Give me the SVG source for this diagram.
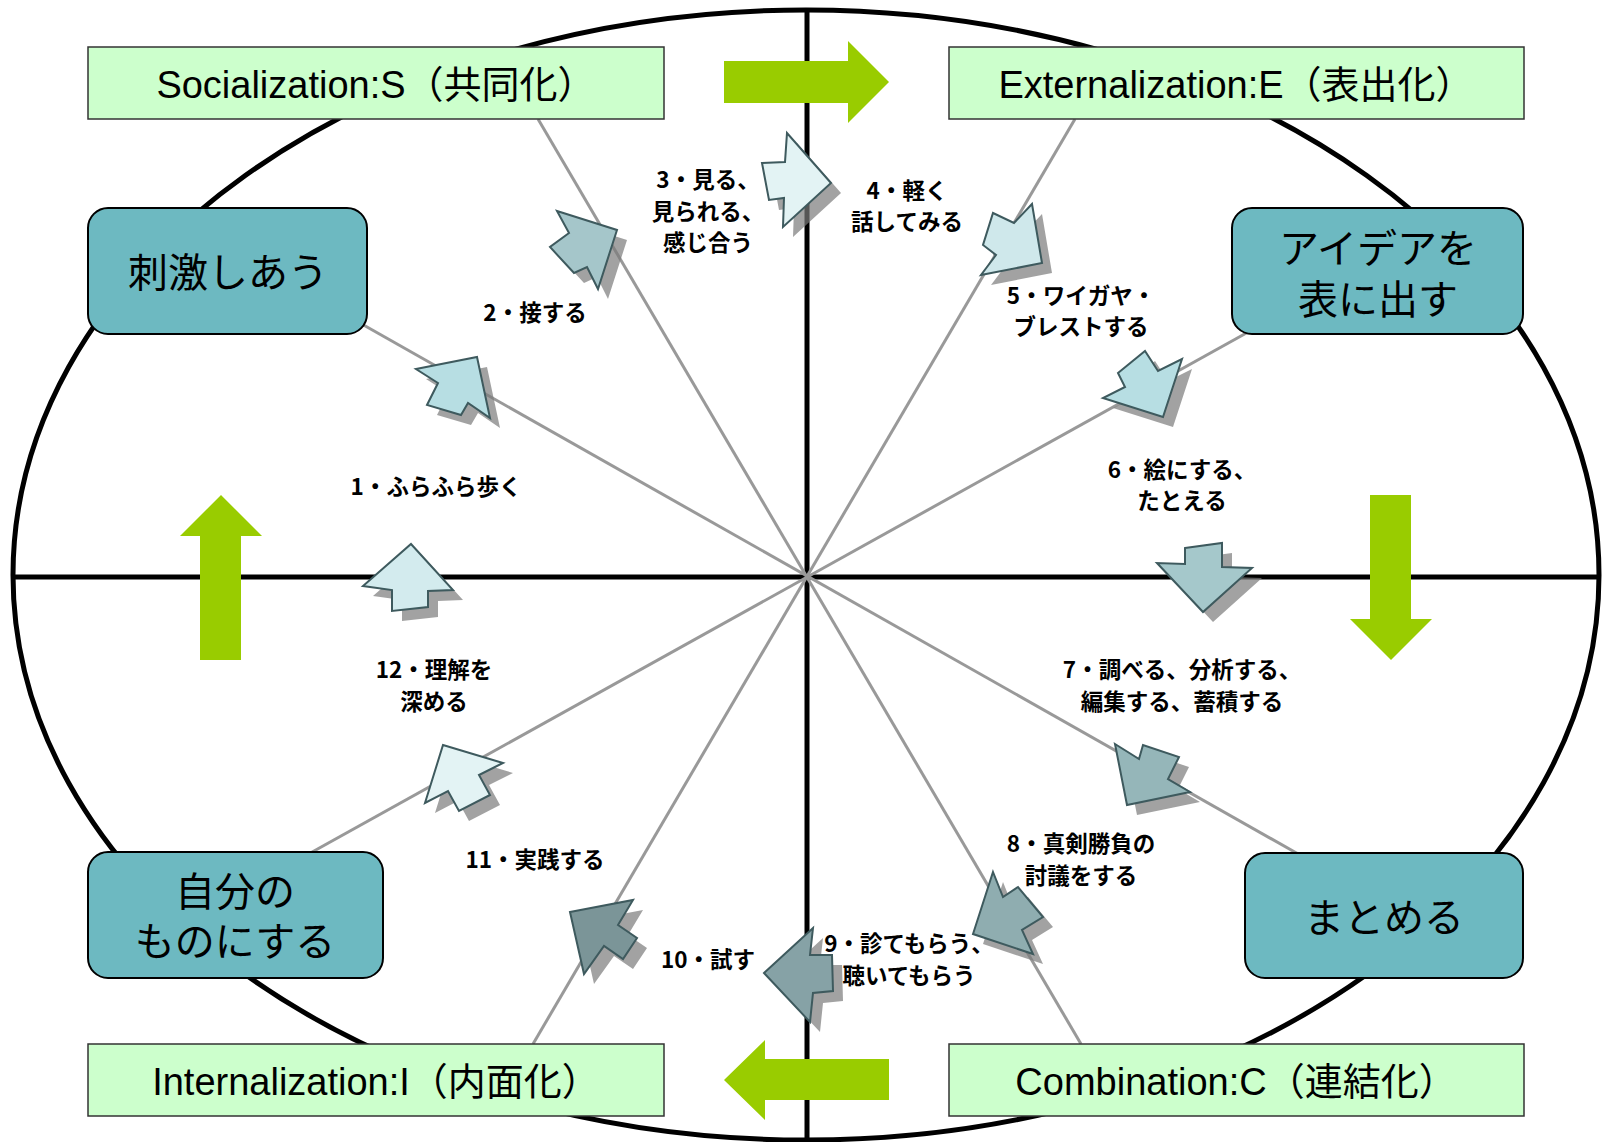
<svg xmlns="http://www.w3.org/2000/svg" width="1602" height="1142" viewBox="0 0 1602 1142">
<style>
.frame{fill:none;stroke:#000;stroke-width:5}
.axis{stroke:#000;stroke-width:5}
.spoke{stroke:#999;stroke-width:3}
.green{fill:#99CC00}
.mode rect{fill:#CCFFCC;stroke:#333;stroke-width:1.5}
.mode text{font-family:"Liberation Sans","Noto Sans CJK JP",sans-serif;font-size:38px;text-anchor:middle;fill:#000}
.act rect{fill:#6DB9C1;stroke:#000;stroke-width:2}
.act text{font-family:"Noto Sans CJK JP",sans-serif;font-size:40px;text-anchor:middle;fill:#000}
.sh{fill:#7a7a7a;opacity:0.7}
.ar{stroke:#3E5A5E;stroke-width:2;stroke-linejoin:miter}
.lbl{font-family:"Noto Sans CJK JP",sans-serif;font-size:22.5px;font-weight:700;text-anchor:middle;fill:#000}
</style>
<rect width="1602" height="1142" fill="#fff"/>
<ellipse class="frame" cx="806" cy="575" rx="793" ry="565"/>
<g id="connectors">
<line class="axis" x1="12" y1="577" x2="1599" y2="577"/>
<line class="axis" x1="807" y1="10" x2="807" y2="1140"/>
<line class="spoke" x1="538" y1="119" x2="1081" y2="1044"/>
<line class="spoke" x1="360" y1="323" x2="1300" y2="855"/>
<line class="spoke" x1="1075" y1="119" x2="533" y2="1044"/>
<line class="spoke" x1="305" y1="856" x2="1250" y2="331"/>
<polygon class="green" points="724,61 848,61 848,41 889,82 848,123 848,103 724,103"/>
<polygon class="green" points="1370,495 1411,495 1411,619 1432,619 1391,660 1350,619 1370,619"/>
<polygon class="green" points="200,660 200,536 180,536 221,495 262,536 241,536 241,660"/>
<polygon class="green" points="889,1059 765,1059 765,1040 724,1080 765,1120 765,1100 889,1100"/>
</g>
<g id="node-socialization" class="mode"><rect x="88" y="47" width="576" height="72"/><text x="376" y="98">Socialization:S（共同化）</text></g>
<g id="node-externalization" class="mode"><rect x="949" y="47" width="575" height="72"/><text x="1236" y="98">Externalization:E（表出化）</text></g>
<g id="node-internalization" class="mode"><rect x="88" y="1044" width="576" height="72"/><text x="376" y="1095">Internalization:I（内面化）</text></g>
<g id="node-combination" class="mode"><rect x="949" y="1044" width="575" height="72"/><text x="1236" y="1095">Combination:C（連結化）</text></g>
<g id="node-shigeki" class="act"><rect x="88" y="208" width="279" height="126" rx="20"/><text x="228" y="287">刺激しあう</text></g>
<g id="node-idea" class="act"><rect x="1232" y="208" width="291" height="126" rx="20"/><text x="1378" y="263">アイデアを<tspan x="1378" y="314">表に出す</tspan></text></g>
<g id="node-jibun" class="act"><rect x="88" y="852" width="295" height="126" rx="20"/><text x="235" y="906">自分の<tspan x="235" y="956">ものにする</tspan></text></g>
<g id="node-matomeru" class="act"><rect x="1245" y="853" width="278" height="125" rx="20"/><text x="1384" y="932">まとめる</text></g>
<g id="steps">
<g id="step1"><polygon class="sh" transform="translate(10,10)" points="416,369 477,357 490,418 468,403 461,415 427,405 438,383"/><polygon class="ar" fill="#B7DEE3" points="416,369 477,357 490,418 468,403 461,415 427,405 438,383"/></g>
<g id="step2"><polygon class="sh" transform="translate(10,10)" points="557,211 617,230 598,289 587,267 574,273 550,247 569,233"/><polygon class="ar" fill="#A5C6CA" points="557,211 617,230 598,289 587,267 574,273 550,247 569,233"/></g>
<g id="step3"><polygon class="sh" transform="translate(10,10)" points="762,163 785,162 787,133 831,183 783,227 784,198 769,200"/><polygon class="ar" fill="#E3F3F4" points="762,163 785,162 787,133 831,183 783,227 784,198 769,200"/></g>
<g id="step4"><polygon class="sh" transform="translate(10,10)" points="993,213 1014,223 1032,204 1042,263 981,275 996,255 983,245"/><polygon class="ar" fill="#CFE8EB" points="993,213 1014,223 1032,204 1042,263 981,275 996,255 983,245"/></g>
<g id="step5"><polygon class="sh" transform="translate(10,10)" points="1118,373 1145,351 1158,371 1182,359 1163,417 1103,398 1125,387"/><polygon class="ar" fill="#B7DEE3" points="1118,373 1145,351 1158,371 1182,359 1163,417 1103,398 1125,387"/></g>
<g id="step6"><polygon class="sh" transform="translate(10,10)" points="1185,548 1222,543 1222,567 1252,568 1203,612 1157,563 1185,564"/><polygon class="ar" fill="#A5C8CB" points="1185,548 1222,543 1222,567 1252,568 1203,612 1157,563 1185,564"/></g>
<g id="step7"><polygon class="sh" transform="translate(10,10)" points="1115,744 1139,759 1143,745 1179,757 1168,779 1190,792 1127,805"/><polygon class="ar" fill="#95B6B9" points="1115,744 1139,759 1143,745 1179,757 1168,779 1190,792 1127,805"/></g>
<g id="step8"><polygon class="sh" transform="translate(10,10)" points="993,872 1003,897 1018,887 1043,917 1022,930 1033,954 973,934"/><polygon class="ar" fill="#8FADB0" points="993,872 1003,897 1018,887 1043,917 1022,930 1033,954 973,934"/></g>
<g id="step9"><polygon class="sh" transform="translate(10,10)" points="764,973 813,928 810,955 832,955 833,991 813,993 810,1022"/><polygon class="ar" fill="#86A2A6" points="764,973 813,928 810,955 832,955 833,991 813,993 810,1022"/></g>
<g id="step10"><polygon class="sh" transform="translate(10,10)" points="570,912 633,900 618,925 637,938 623,959 604,946 584,974"/><polygon class="ar" fill="#7B9598" points="570,912 633,900 618,925 637,938 623,959 604,946 584,974"/></g>
<g id="step11"><polygon class="sh" transform="translate(10,10)" points="443,745 503,763 479,775 490,795 459,811 448,791 425,803"/><polygon class="ar" fill="#E3F3F4" points="443,745 503,763 479,775 490,795 459,811 448,791 425,803"/></g>
<g id="step12"><polygon class="sh" transform="translate(10,10)" points="411,544 453,590 428,591 428,607 392,611 392,590 363,586"/><polygon class="ar" fill="#D3EBEE" points="411,544 453,590 428,591 428,607 392,611 392,590 363,586"/></g>
</g>
<g id="labels">
<text class="lbl" x="436" y="495">1・ふらふら歩く</text>
<text class="lbl" x="535" y="321">2・接する</text>
<text class="lbl" x="708" y="188">3・見る、<tspan x="708" y="220">見られる、</tspan><tspan x="708" y="251">感じ合う</tspan></text>
<text class="lbl" x="907" y="199">4・軽く<tspan x="907" y="230">話してみる</tspan></text>
<text class="lbl" x="1081" y="304">5・ワイガヤ・<tspan x="1081" y="335">ブレストする</tspan></text>
<text class="lbl" x="1182" y="478">6・絵にする、<tspan x="1182" y="509">たとえる</tspan></text>
<text class="lbl" x="1182" y="678">7・調べる、分析する、<tspan x="1182" y="710">編集する、蓄積する</tspan></text>
<text class="lbl" x="1081" y="852">8・真剣勝負の<tspan x="1081" y="884">討議をする</tspan></text>
<text class="lbl" x="909" y="952">9・診てもらう、<tspan x="909" y="984">聴いてもらう</tspan></text>
<text class="lbl" x="708" y="968">10・試す</text>
<text class="lbl" x="535" y="868">11・実践する</text>
<text class="lbl" x="434" y="678">12・理解を<tspan x="434" y="710">深める</tspan></text>
</g>
</svg>
